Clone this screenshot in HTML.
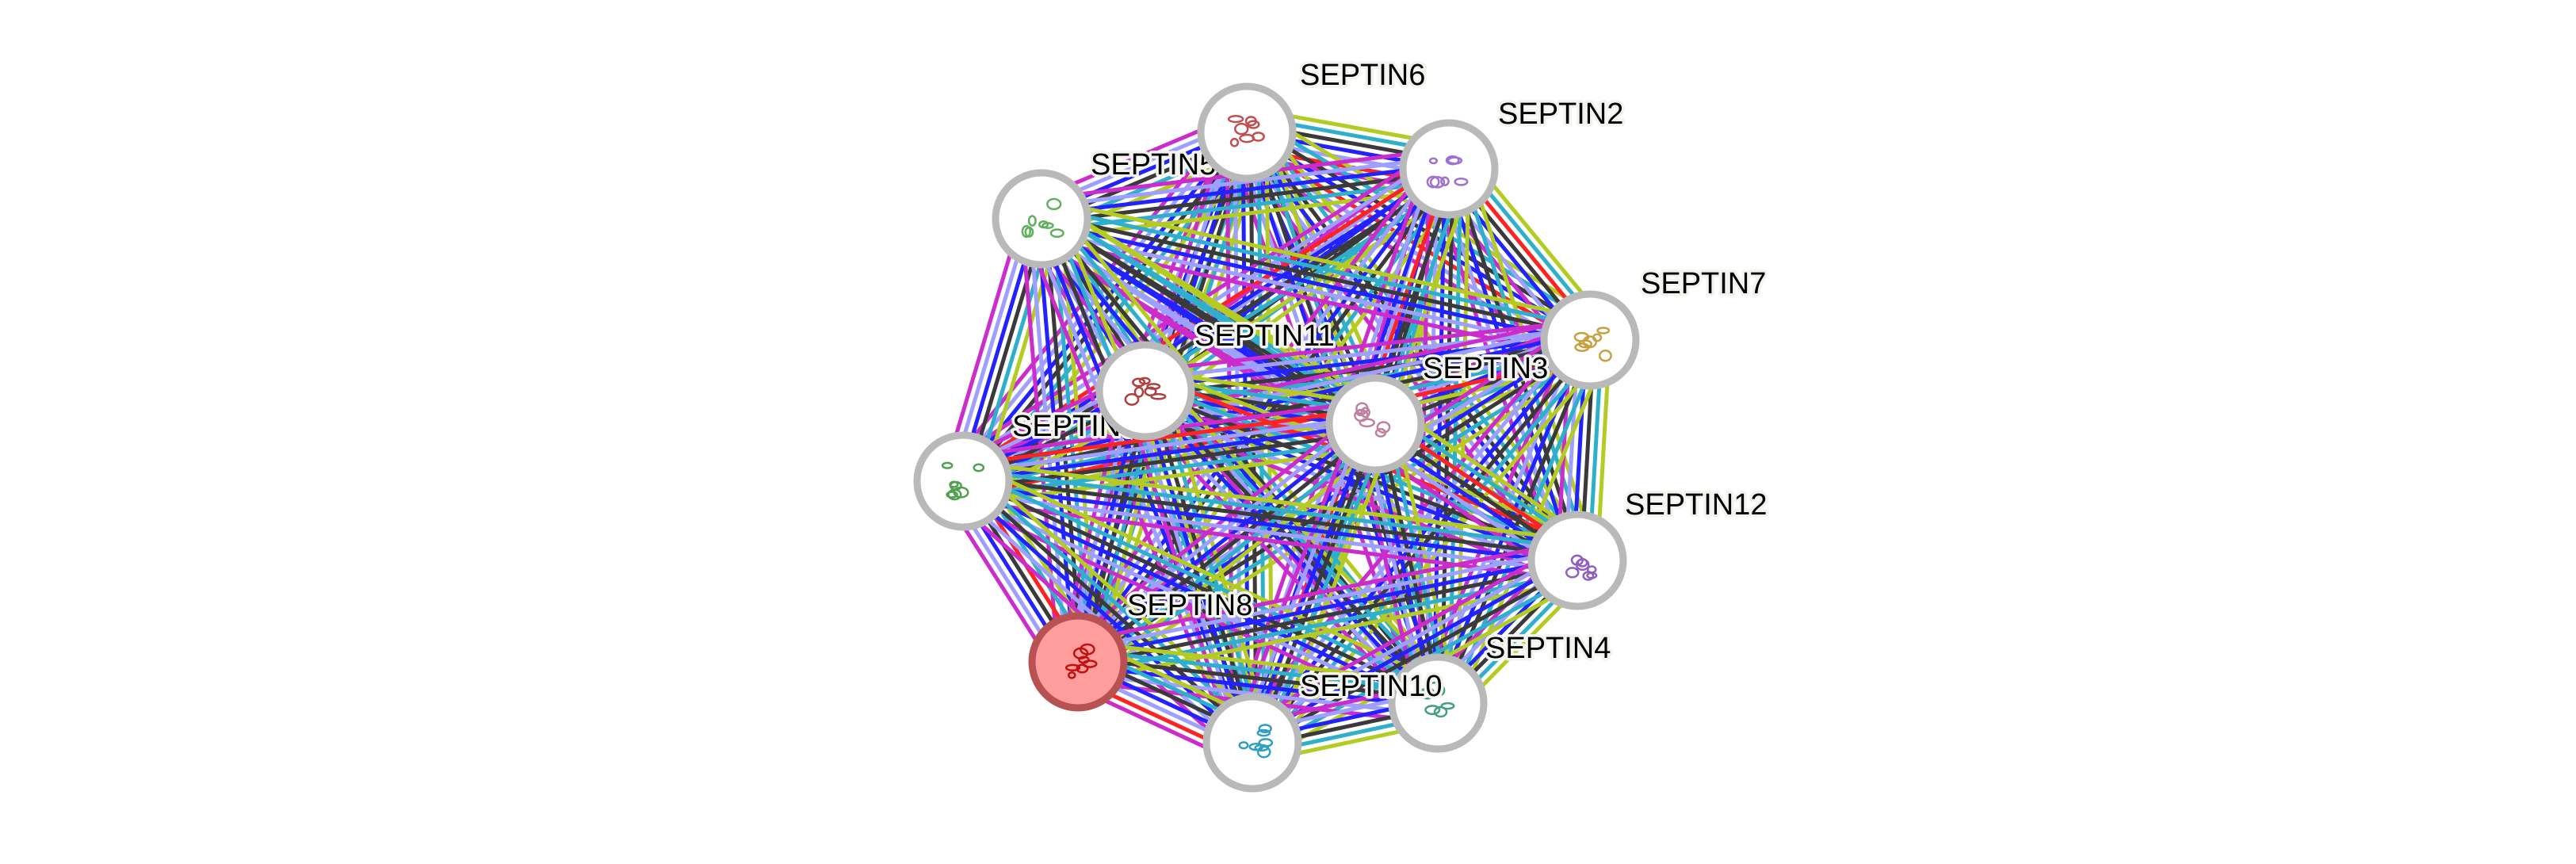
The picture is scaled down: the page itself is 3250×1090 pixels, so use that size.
<!DOCTYPE html>
<html><head><meta charset="utf-8"><style>
html,body{margin:0;padding:0;background:#fff;}
svg{display:block;}
.lab{font-family:"Liberation Sans",sans-serif;font-size:38px;fill:#000;stroke:#f4f4ee;stroke-width:7px;paint-order:stroke;stroke-linejoin:round;}
</style></head><body>
<svg id="s" width="3250" height="1090" viewBox="0 0 3250 1090" xmlns="http://www.w3.org/2000/svg">
<g id="edges"></g>
<g id="g2"></g><text class="lab" x="1376" y="220">SEPTIN5</text>
<g id="g6"></g><text class="lab" x="1277" y="550">SEPTIN9</text>
<g id="g0"></g><text class="lab" x="1640" y="107">SEPTIN6</text>
<g id="g1"></g><text class="lab" x="1890" y="156">SEPTIN2</text>
<g id="g3"></g><text class="lab" x="2070" y="370">SEPTIN7</text>
<g id="g4"></g><text class="lab" x="1507" y="436">SEPTIN11</text>
<g id="g5"></g><text class="lab" x="1795" y="477">SEPTIN3</text>
<g id="g7"></g><text class="lab" x="2050" y="649">SEPTIN12</text>
<g id="g8"></g><text class="lab" x="1422" y="776">SEPTIN8</text>
<g id="g9"></g><text class="lab" x="1874" y="830">SEPTIN4</text>
<g id="g10"></g><text class="lab" x="1640" y="878">SEPTIN10</text>
</svg>
<script>
var N=[[1573,167],[1828,213],[1314,276],[2006,429],[1445,493],[1735,535],[1215,607],[1990,707],[1360,835],[1814,887],[1580,937]];
var C=["#b4cc22","#2eb0cc","#3a3a3a","#2222ff","#9f9fff","#cc2ccc"];
var ns="http://www.w3.org/2000/svg";
var eg=document.getElementById("edges");
var seed=7;function r(){seed=(seed*16807)%2147483647;return seed/2147483647;}
for(var i=0;i<N.length;i++)for(var j=i+1;j<N.length;j++){
 var cols=C.slice();
 if(r()<0.25)cols.splice(Math.floor(r()*6),0,"#ff2222");
 var a=N[i],b=N[j],dx=b[0]-a[0],dy=b[1]-a[1],L=Math.hypot(dx,dy),px=-dy/L,py=dx/L;
 var n=cols.length;
 for(var k=0;k<n;k++){var o=(k-(n-1)/2)*10;
  var l=document.createElementNS(ns,"line");
  l.setAttribute("x1",a[0]+px*o);l.setAttribute("y1",a[1]+py*o);
  l.setAttribute("x2",b[0]+px*o);l.setAttribute("y2",b[1]+py*o);
  l.setAttribute("stroke",cols[k]);l.setAttribute("stroke-width",5);eg.appendChild(l);}
}
var pc=["#c05050","#a070d0","#60b060","#c8a040","#b04040","#c080a0","#50a050","#9060c0","#c01010","#40a080","#30a0c0"];
for(var i=0;i<N.length;i++){
 var ng=document.getElementById("g"+i);
 var c=document.createElementNS(ns,"circle");
 c.setAttribute("cx",N[i][0]);c.setAttribute("cy",N[i][1]);c.setAttribute("r",58);
 if(i==8){c.setAttribute("fill","#ff9c9c");c.setAttribute("stroke","#b85252");}
 else{c.setAttribute("fill","#fff");c.setAttribute("stroke","#b9b9b9");}
 c.setAttribute("stroke-width",9);ng.appendChild(c);
 for(var k=0;k<7;k++){var e=document.createElementNS(ns,"ellipse");
  e.setAttribute("cx",N[i][0]-20+r()*40);e.setAttribute("cy",N[i][1]-20+r()*40);
  e.setAttribute("rx",4+r()*5);e.setAttribute("ry",3+r()*4);
  e.setAttribute("fill","none");e.setAttribute("stroke",pc[i]);e.setAttribute("stroke-width",2.5);ng.appendChild(e);}
}
</script>
</body></html>
